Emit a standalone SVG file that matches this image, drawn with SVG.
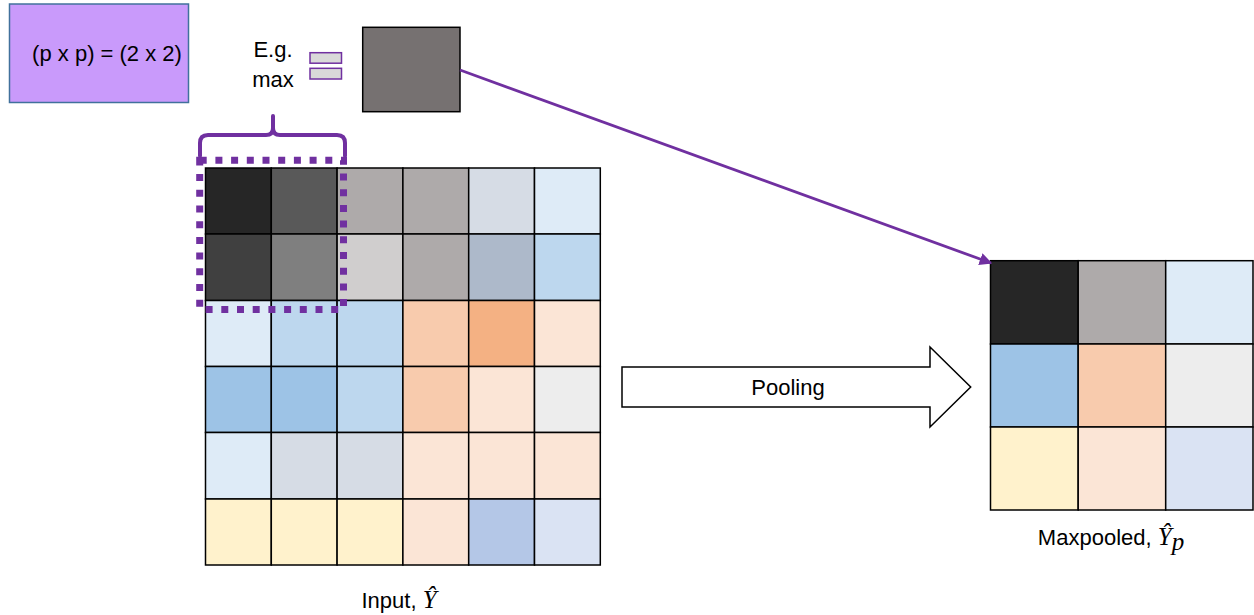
<svg xmlns="http://www.w3.org/2000/svg" width="1254" height="615" viewBox="0 0 1254 615">
  <style>
    .lbl { font-family: "Liberation Sans", Arial, sans-serif; font-size: 22px; fill: #000; text-anchor: middle; }
    .math { font-family: "Liberation Serif", "DejaVu Serif", serif; font-style: italic; font-size: 25px; }
    .cell { stroke: #000; stroke-width: 1.5; }
    .purple { fill: none; stroke: #7030A0; }
  </style>
  <defs>
    <marker id="arrowHead" viewBox="0 0 10 10" refX="9" refY="5" markerWidth="4.5" markerHeight="4.5" orient="auto" markerUnits="strokeWidth">
      <path d="M0,0 L10,5 L0,10 z" fill="#7030A0"/>
    </marker>
  </defs>

  <!-- pool size box -->
  <g id="pool-size">
    <rect x="9.5" y="4" width="179" height="98.5" fill="#C99AFB" stroke="#41719C" stroke-width="1.5"/>
    <text class="lbl" x="107" y="61">(p x p) = (2 x 2)</text>
  </g>

  <!-- operator label -->
  <g id="op-label">
    <text class="lbl" x="273" y="57">E.g.</text>
    <text class="lbl" x="273" y="87">max</text>
  </g>

  <!-- equals sign -->
  <g id="equals">
    <rect x="310" y="52.7" width="31.5" height="10.5" fill="#D9D9D9" stroke="#7030A0" stroke-width="1.5"/>
    <rect x="310" y="68.3" width="31.5" height="10.7" fill="#D9D9D9" stroke="#7030A0" stroke-width="1.5"/>
  </g>

  <!-- pooled value -->
  <g id="pooled-value">
    <rect x="362.7" y="27.3" width="97.3" height="84.4" fill="#767171" stroke="#000" stroke-width="1.5"/>
  </g>

  <!-- input feature map 6x6 -->
  <g id="input-grid">
    <!-- row 0 -->
    <rect class="cell" x="205.5" y="168" width="65.8" height="66" fill="#262626"/>
    <rect class="cell" x="271.3" y="168" width="65.8" height="66" fill="#595959"/>
    <rect class="cell" x="337.1" y="168" width="65.8" height="66" fill="#AEAAAA"/>
    <rect class="cell" x="402.9" y="168" width="65.8" height="66" fill="#AEAAAA"/>
    <rect class="cell" x="468.7" y="168" width="65.8" height="66" fill="#D6DCE5"/>
    <rect class="cell" x="534.5" y="168" width="65.8" height="66" fill="#DEEBF7"/>
    <!-- row 1 -->
    <rect class="cell" x="205.5" y="234" width="65.8" height="66.5" fill="#404040"/>
    <rect class="cell" x="271.3" y="234" width="65.8" height="66.5" fill="#7F7F7F"/>
    <rect class="cell" x="337.1" y="234" width="65.8" height="66.5" fill="#D0CECE"/>
    <rect class="cell" x="402.9" y="234" width="65.8" height="66.5" fill="#AEAAAA"/>
    <rect class="cell" x="468.7" y="234" width="65.8" height="66.5" fill="#ADB9CA"/>
    <rect class="cell" x="534.5" y="234" width="65.8" height="66.5" fill="#BDD7EE"/>
    <!-- row 2 -->
    <rect class="cell" x="205.5" y="300.5" width="65.8" height="66" fill="#DEEBF7"/>
    <rect class="cell" x="271.3" y="300.5" width="65.8" height="66" fill="#BDD7EE"/>
    <rect class="cell" x="337.1" y="300.5" width="65.8" height="66" fill="#BDD7EE"/>
    <rect class="cell" x="402.9" y="300.5" width="65.8" height="66" fill="#F8CBAD"/>
    <rect class="cell" x="468.7" y="300.5" width="65.8" height="66" fill="#F4B183"/>
    <rect class="cell" x="534.5" y="300.5" width="65.8" height="66" fill="#FBE5D6"/>
    <!-- row 3 -->
    <rect class="cell" x="205.5" y="366.5" width="65.8" height="66" fill="#9DC3E6"/>
    <rect class="cell" x="271.3" y="366.5" width="65.8" height="66" fill="#9DC3E6"/>
    <rect class="cell" x="337.1" y="366.5" width="65.8" height="66" fill="#BDD7EE"/>
    <rect class="cell" x="402.9" y="366.5" width="65.8" height="66" fill="#F8CBAD"/>
    <rect class="cell" x="468.7" y="366.5" width="65.8" height="66" fill="#FBE5D6"/>
    <rect class="cell" x="534.5" y="366.5" width="65.8" height="66" fill="#EDEDED"/>
    <!-- row 4 -->
    <rect class="cell" x="205.5" y="432.5" width="65.8" height="66.5" fill="#DEEBF7"/>
    <rect class="cell" x="271.3" y="432.5" width="65.8" height="66.5" fill="#D6DCE5"/>
    <rect class="cell" x="337.1" y="432.5" width="65.8" height="66.5" fill="#D6DCE5"/>
    <rect class="cell" x="402.9" y="432.5" width="65.8" height="66.5" fill="#FBE5D6"/>
    <rect class="cell" x="468.7" y="432.5" width="65.8" height="66.5" fill="#FBE5D6"/>
    <rect class="cell" x="534.5" y="432.5" width="65.8" height="66.5" fill="#FBE5D6"/>
    <!-- row 5 -->
    <rect class="cell" x="205.5" y="499" width="65.8" height="66" fill="#FFF2CC"/>
    <rect class="cell" x="271.3" y="499" width="65.8" height="66" fill="#FFF2CC"/>
    <rect class="cell" x="337.1" y="499" width="65.8" height="66" fill="#FFF2CC"/>
    <rect class="cell" x="402.9" y="499" width="65.8" height="66" fill="#FBE5D6"/>
    <rect class="cell" x="468.7" y="499" width="65.8" height="66" fill="#B4C7E7"/>
    <rect class="cell" x="534.5" y="499" width="65.8" height="66" fill="#DAE3F3"/>
  </g>

  <!-- pooling window and its brace -->
  <g id="pool-window">
    <rect class="purple" x="199.7" y="160.3" width="143.8" height="149.2" stroke-width="7" stroke-dasharray="7 8.7"/>
    <path class="purple" stroke-width="4" stroke-linejoin="round" stroke-linecap="round"
          d="M200,156 V143 Q200,135 208,135 H266 Q273,135 273,128 V116 M273,116 V128 Q273,135 280,135 H337 Q345,135 345,143 V156"/>
  </g>

  <g id="input-label">
    <text class="lbl" x="399" y="608">Input, <tspan class="math">Ŷ</tspan></text>
  </g>

  <!-- pooling block arrow -->
  <g id="pooling-arrow">
    <polygon points="622,367 930,367 930,347 970.7,387 930,427 930,407 622,407" fill="#FFFFFF" stroke="#000" stroke-width="1.5"/>
    <text class="lbl" x="788" y="395">Pooling</text>
  </g>

  <!-- maxpooled output 3x3 -->
  <g id="output-grid">
    <rect class="cell" x="990.5" y="260.7" width="87.7" height="83.3" fill="#262626"/>
    <rect class="cell" x="1078.2" y="260.7" width="87.5" height="83.3" fill="#AEAAAA"/>
    <rect class="cell" x="1165.7" y="260.7" width="87.3" height="83.3" fill="#DEEBF7"/>
    <rect class="cell" x="990.5" y="344" width="87.7" height="83" fill="#9DC3E6"/>
    <rect class="cell" x="1078.2" y="344" width="87.5" height="83" fill="#F8CBAD"/>
    <rect class="cell" x="1165.7" y="344" width="87.3" height="83" fill="#EDEDED"/>
    <rect class="cell" x="990.5" y="427" width="87.7" height="83" fill="#FFF2CC"/>
    <rect class="cell" x="1078.2" y="427" width="87.5" height="83" fill="#FBE5D6"/>
    <rect class="cell" x="1165.7" y="427" width="87.3" height="83" fill="#DAE3F3"/>
  </g>

  <g id="output-label">
    <text class="lbl" x="1111" y="545">Maxpooled, <tspan class="math">Ŷ</tspan><tspan class="math" font-size="18" dy="5">p</tspan></text>
  </g>

  <!-- connectors -->
  <g id="connectors">
    <line x1="460" y1="70" x2="991" y2="263" stroke="#7030A0" stroke-width="2.8" marker-end="url(#arrowHead)"/>
  </g>
</svg>
